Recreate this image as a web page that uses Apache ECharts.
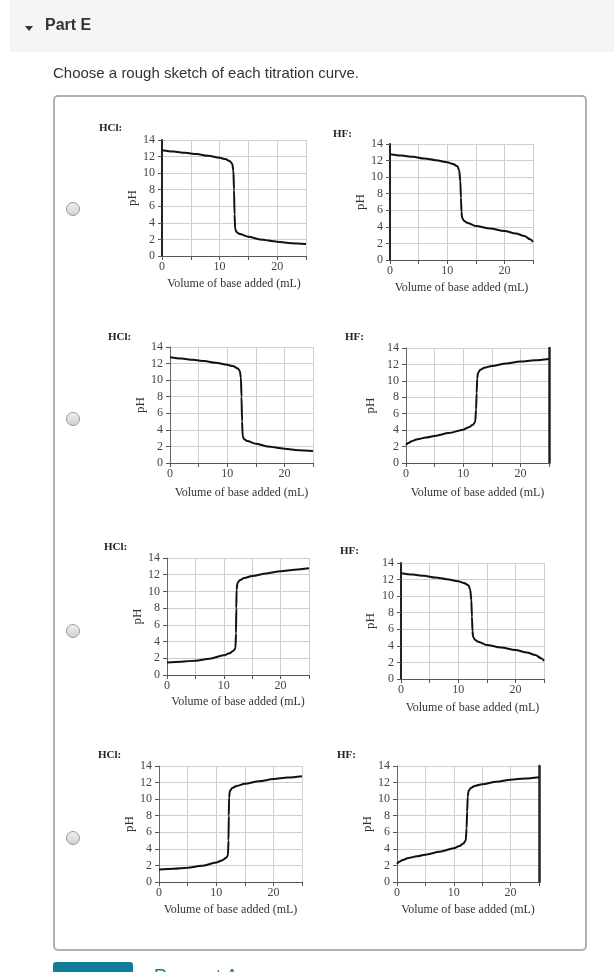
<!DOCTYPE html>
<html>
<head>
<meta charset="utf-8">
<title>Part E</title>
<script src="https://cdn.jsdelivr.net/npm/echarts@6/dist/echarts.min.js"></script>
<style>
html, body { margin: 0; padding: 0; background: #fff; }
#chart { width: 614px; height: 972px; }
</style>
</head>
<body>
<div id="chart"></div>
<script>
// --- data ---
var xLabelled = [0, 10, 20];
var yTickStep = 2;

// volume (mL), pH
var hclDown = [[0,12.75],[2,12.6],[4,12.45],[6,12.3],[8,12.1],[10,11.85],[11,11.7],[11.8,11.45],[12.2,11.1],[12.4,10.3],[12.5,8],[12.6,5],[12.7,3.3],[12.9,2.9],[13.5,2.65],[15,2.33],[17,2.0],[20,1.73],[22.5,1.55],[25,1.45]];
var hfDown = [[0,12.75],[2,12.6],[4,12.45],[6,12.25],[8,12.05],[10,11.8],[11,11.6],[11.8,11.3],[12.1,10.8],[12.3,9.5],[12.4,7.5],[12.5,5.8],[12.6,5.1],[12.9,4.75],[13.5,4.5],[15,4.1],[17.5,3.8],[20,3.5],[22,3.2],[23.5,2.9],[24.5,2.5],[25,2.2]];
var hclUp = [[0,1.5],[2.5,1.6],[5,1.72],[7.5,1.95],[10,2.35],[11,2.6],[11.7,2.9],[12.05,3.2],[12.15,5],[12.2,8],[12.25,10.2],[12.4,11.0],[12.8,11.35],[13.6,11.6],[15,11.85],[17.5,12.15],[20,12.42],[22.5,12.6],[25,12.76]];
var hfUp = [[0,2.2],[0.4,2.45],[1,2.65],[2,2.9],[3.5,3.1],[5,3.3],[7.5,3.65],[10,4.06],[11,4.35],[11.7,4.65],[12.1,5.0],[12.25,6.5],[12.35,8.5],[12.45,10.3],[12.6,11.0],[13,11.35],[13.7,11.6],[15,11.8],[17.5,12.1],[20,12.35],[22.5,12.5],[25,12.65]];

var acidNames = ['HCl:', 'HF:', 'HCl:', 'HF:', 'HCl:', 'HF:', 'HCl:', 'HF:'];
var curves = [hclDown, hfDown, hclDown, hfUp, hclUp, hfDown, hclUp, hfUp];

// --- layout of the 8 small plots ---
var panels = [
  { left: 162, top: 140, w: 144, h: 116, lab: [99, 128],  px: 28, nx: 28, edge: 'left' },
  { left: 390, top: 144, w: 143, h: 116, lab: [333, 134], px: 30, nx: 28, edge: 'left' },
  { left: 170, top: 347, w: 143, h: 116, lab: [108, 337], px: 28, nx: 30, edge: '' },
  { left: 406, top: 348, w: 143, h: 115, lab: [345, 337], px: 36, nx: 30, edge: 'right' },
  { left: 167, top: 558, w: 142, h: 117, lab: [104, 547], px: 29, nx: 27, edge: '' },
  { left: 401, top: 563, w: 143, h: 116, lab: [340, 551], px: 31, nx: 29, edge: 'left' },
  { left: 159, top: 766, w: 143, h: 116, lab: [98, 755],  px: 28, nx: 28, edge: '' },
  { left: 397, top: 766, w: 142, h: 116, lab: [337, 755], px: 28, nx: 28, edge: 'right' }
];
var radioY = [209, 419, 631, 838];

var serif = 'Liberation Serif';
var sans = 'Liberation Sans';

var grids = [], xAxes = [], yAxes = [], series = [], graphics = [];

// page chrome
graphics.push({ type: 'rect', shape: { x: 10, y: 0, width: 604, height: 52 }, style: { fill: '#f5f5f5' } });
graphics.push({ type: 'polygon', shape: { points: [[25, 26], [33, 26], [29, 31]] }, style: { fill: '#333' } });
graphics.push({ type: 'text', style: { x: 45, y: 26, text: 'Part E', font: 'bold 16px ' + sans, fill: '#333', textVerticalAlign: 'middle' } });
graphics.push({ type: 'text', style: { x: 53, y: 74, text: 'Choose a rough sketch of each titration curve.', font: '15px ' + sans, fill: '#333', textVerticalAlign: 'middle' } });
graphics.push({ type: 'rect', z: -1, shape: { x: 54, y: 96, width: 532, height: 854, r: 4 }, style: { fill: '#fff', stroke: '#b0b0b0', lineWidth: 2 } });
graphics.push({ type: 'rect', shape: { x: 53, y: 962, width: 80, height: 24, r: 3 }, style: { fill: '#137c9b' } });
graphics.push({ type: 'text', style: { x: 93, y: 971, text: 'Submit', font: 'bold 15px ' + sans, fill: '#fff', textAlign: 'center' } });
graphics.push({ type: 'text', style: { x: 154, y: 968, text: 'Request Answer', font: '18px ' + sans, fill: '#137c9b' } });

radioY.forEach(function (y) {
  graphics.push({
    type: 'circle', shape: { cx: 73, cy: y, r: 6.5 },
    style: {
      fill: new echarts.graphic.LinearGradient(0, 0, 0, 1, [
        { offset: 0, color: '#f2f2f2' }, { offset: 1, color: '#cfcfcf' }
      ]),
      stroke: '#9a9a9a', lineWidth: 1
    }
  });
});

panels.forEach(function (p, i) {
  grids.push({ left: p.left, top: p.top, width: p.w, height: p.h, containLabel: false });

  xAxes.push({
    type: 'value', gridIndex: i, min: 0, max: 25, interval: 5,
    name: 'Volume of base added (mL)', nameLocation: 'middle', nameGap: p.nx - 6,
    nameTextStyle: { fontFamily: serif, fontSize: 12, color: '#333' },
    axisLine: { show: true, onZero: false, lineStyle: { color: '#555', width: 1 } },
    axisTick: { show: true, length: 4, lineStyle: { color: '#555' } },
    axisLabel: {
      margin: 5, fontFamily: serif, fontSize: 12, color: '#444',
      formatter: function (v) { return xLabelled.indexOf(v) >= 0 ? String(v) : ''; }
    },
    splitLine: { show: true, lineStyle: { color: '#cfcfcf', width: 1 } }
  });

  yAxes.push({
    type: 'value', gridIndex: i, min: 0, max: 14, interval: yTickStep,
    name: 'pH', nameLocation: 'middle', nameGap: p.px - 7, nameRotate: 90,
    nameTextStyle: { fontFamily: serif, fontSize: 13, color: '#333' },
    axisLine: { show: true, onZero: false, lineStyle: { color: p.edge === 'left' ? '#222' : '#666', width: p.edge === 'left' ? 2 : 1 } },
    axisTick: { show: true, length: 4, lineStyle: { color: '#555' } },
    axisLabel: { margin: 7, fontFamily: serif, fontSize: 12, color: '#444' },
    splitLine: { show: true, lineStyle: { color: '#cfcfcf', width: 1 } }
  });

  series.push({
    type: 'line', xAxisIndex: i, yAxisIndex: yAxes.length - 1,
    data: curves[i], showSymbol: false, smooth: 0.3, smoothMonotone: 'x',
    lineStyle: { color: '#111', width: 2 }, silent: true, animation: false
  });

  if (p.edge === 'right') {
    yAxes.push({
      type: 'value', gridIndex: i, min: 0, max: 14, position: 'right',
      axisLine: { show: true, onZero: false, lineStyle: { color: '#222', width: 2.5 } },
      axisTick: { show: false }, axisLabel: { show: false }, splitLine: { show: false }
    });
  }

  graphics.push({ type: 'text', style: { x: p.lab[0], y: p.lab[1], text: acidNames[i], font: 'bold 11px ' + serif, fill: '#222', textVerticalAlign: 'middle' } });
});

var chart = echarts.init(document.getElementById('chart'));
chart.setOption({
  backgroundColor: '#fff',
  animation: false,
  grid: grids,
  xAxis: xAxes,
  yAxis: yAxes,
  series: series,
  graphic: { elements: graphics }
});
</script>
</body>
</html>
